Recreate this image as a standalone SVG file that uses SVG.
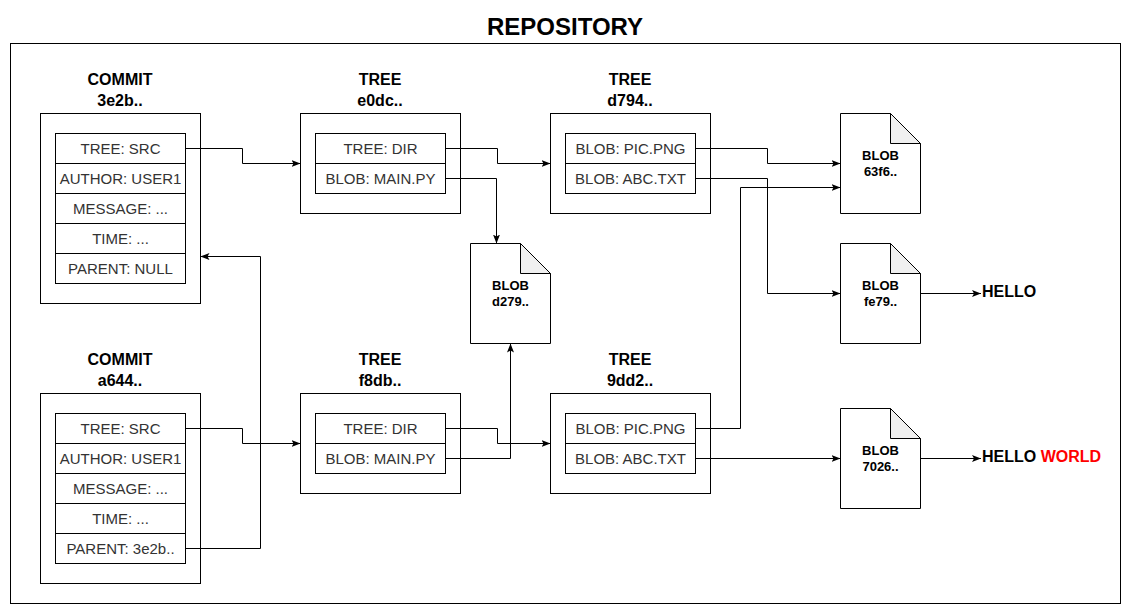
<svg xmlns="http://www.w3.org/2000/svg" width="1131" height="614" viewBox="0 0 1131 614">
<defs>
<style>
.box{fill:#fff;stroke:#000;stroke-width:1}
.cell{fill:#fff;stroke:#000;stroke-width:1}
.ct{font-family:"Liberation Sans",Arial,sans-serif;font-size:15px;fill:#333;text-anchor:middle}
.hd{font-family:"Liberation Sans",Arial,sans-serif;font-size:16px;font-weight:bold;fill:#000;text-anchor:middle}
.bt{font-family:"Liberation Sans",Arial,sans-serif;font-size:13px;font-weight:bold;fill:#000;text-anchor:middle}
.fold{fill:#f0f0f0;stroke:#000;stroke-width:1}
.ln{fill:none;stroke:#000;stroke-width:1;marker-end:url(#arr)}
</style>
<marker id="arr" markerUnits="userSpaceOnUse" markerWidth="9" markerHeight="8" viewBox="0 0 9 8" refX="9" refY="4" orient="auto">
<path d="M0,0.5 L9,4 L0,7.5 L2,4 Z" fill="#000"/>
</marker>
</defs>
<rect x="0" y="0" width="1131" height="614" fill="#fff"/>
<g id="repository">
<rect x="10.5" y="43.5" width="1110" height="560" fill="none" stroke="#000"/>
<text x="565" y="35" font-family="Liberation Sans,Arial,sans-serif" font-size="24" font-weight="bold" text-anchor="middle">REPOSITORY</text>
</g>
<g id="commit-3e2b">
<text class="hd" x="120" y="85">COMMIT</text>
<text class="hd" x="120" y="106">3e2b..</text>
<rect class="box" x="40.5" y="113.5" width="160" height="190"/>
<rect class="cell" x="55.5" y="133.5" width="130" height="30"/>
<rect class="cell" x="55.5" y="163.5" width="130" height="30"/>
<rect class="cell" x="55.5" y="193.5" width="130" height="30"/>
<rect class="cell" x="55.5" y="223.5" width="130" height="30"/>
<rect class="cell" x="55.5" y="253.5" width="130" height="30"/>
<text class="ct" x="120.5" y="154">TREE: SRC</text>
<text class="ct" x="120.5" y="184">AUTHOR: USER1</text>
<text class="ct" x="120.5" y="214">MESSAGE: ...</text>
<text class="ct" x="120.5" y="244">TIME: ...</text>
<text class="ct" x="120.5" y="274">PARENT: NULL</text>
</g>
<g id="commit-a644">
<text class="hd" x="120" y="365">COMMIT</text>
<text class="hd" x="120" y="386">a644..</text>
<rect class="box" x="40.5" y="393.5" width="160" height="190"/>
<rect class="cell" x="55.5" y="413.5" width="130" height="30"/>
<rect class="cell" x="55.5" y="443.5" width="130" height="30"/>
<rect class="cell" x="55.5" y="473.5" width="130" height="30"/>
<rect class="cell" x="55.5" y="503.5" width="130" height="30"/>
<rect class="cell" x="55.5" y="533.5" width="130" height="30"/>
<text class="ct" x="120.5" y="434">TREE: SRC</text>
<text class="ct" x="120.5" y="464">AUTHOR: USER1</text>
<text class="ct" x="120.5" y="494">MESSAGE: ...</text>
<text class="ct" x="120.5" y="524">TIME: ...</text>
<text class="ct" x="120.5" y="554">PARENT: 3e2b..</text>
</g>
<g id="tree-e0dc">
<text class="hd" x="380" y="85">TREE</text>
<text class="hd" x="380" y="106">e0dc..</text>
<rect class="box" x="300.5" y="113.5" width="160" height="100"/>
<rect class="cell" x="315.5" y="133.5" width="130" height="30"/>
<rect class="cell" x="315.5" y="163.5" width="130" height="30"/>
<text class="ct" x="380.5" y="154">TREE: DIR</text>
<text class="ct" x="380.5" y="184">BLOB: MAIN.PY</text>
</g>
<g id="tree-f8db">
<text class="hd" x="380" y="365">TREE</text>
<text class="hd" x="380" y="386">f8db..</text>
<rect class="box" x="300.5" y="393.5" width="160" height="100"/>
<rect class="cell" x="315.5" y="413.5" width="130" height="30"/>
<rect class="cell" x="315.5" y="443.5" width="130" height="30"/>
<text class="ct" x="380.5" y="434">TREE: DIR</text>
<text class="ct" x="380.5" y="464">BLOB: MAIN.PY</text>
</g>
<g id="tree-d794">
<text class="hd" x="630" y="85">TREE</text>
<text class="hd" x="630" y="106">d794..</text>
<rect class="box" x="550.5" y="113.5" width="160" height="100"/>
<rect class="cell" x="565.5" y="133.5" width="130" height="30"/>
<rect class="cell" x="565.5" y="163.5" width="130" height="30"/>
<text class="ct" x="630.5" y="154">BLOB: PIC.PNG</text>
<text class="ct" x="630.5" y="184">BLOB: ABC.TXT</text>
</g>
<g id="tree-9dd2">
<text class="hd" x="630" y="365">TREE</text>
<text class="hd" x="630" y="386">9dd2..</text>
<rect class="box" x="550.5" y="393.5" width="160" height="100"/>
<rect class="cell" x="565.5" y="413.5" width="130" height="30"/>
<rect class="cell" x="565.5" y="443.5" width="130" height="30"/>
<text class="ct" x="630.5" y="434">BLOB: PIC.PNG</text>
<text class="ct" x="630.5" y="464">BLOB: ABC.TXT</text>
</g>
<g id="blob-d279">
<path class="box" d="M470.5,243.5 H520.5 L550.5,273.5 V343.5 H470.5 Z"/>
<path class="fold" d="M520.5,243.5 V273.5 H550.5 Z"/>
<text class="bt" x="510.5" y="290">BLOB</text>
<text class="bt" x="510.5" y="306">d279..</text>
</g>
<g id="blob-63f6">
<path class="box" d="M840.5,113.5 H890.5 L920.5,143.5 V213.5 H840.5 Z"/>
<path class="fold" d="M890.5,113.5 V143.5 H920.5 Z"/>
<text class="bt" x="880.5" y="160">BLOB</text>
<text class="bt" x="880.5" y="176">63f6..</text>
</g>
<g id="blob-fe79">
<path class="box" d="M840.5,243.5 H890.5 L920.5,273.5 V343.5 H840.5 Z"/>
<path class="fold" d="M890.5,243.5 V273.5 H920.5 Z"/>
<text class="bt" x="880.5" y="290">BLOB</text>
<text class="bt" x="880.5" y="306">fe79..</text>
</g>
<g id="blob-7026">
<path class="box" d="M840.5,408.5 H890.5 L920.5,438.5 V508.5 H840.5 Z"/>
<path class="fold" d="M890.5,408.5 V438.5 H920.5 Z"/>
<text class="bt" x="880.5" y="455">BLOB</text>
<text class="bt" x="880.5" y="471">7026..</text>
</g>
<g id="content-hello">
<text x="982" y="297" font-family="Liberation Sans,Arial,sans-serif" font-size="16" font-weight="bold">HELLO</text>
</g>
<g id="content-hello-world">
<text x="982" y="462" font-family="Liberation Sans,Arial,sans-serif" font-size="16" font-weight="bold">HELLO <tspan fill="#ff0000">WORLD</tspan></text>
</g>
<g id="connectors">
<path class="ln" d="M185.5,148.5 H242.5 V163.5 H300.5"/>
<path class="ln" d="M445.5,148.5 H497.5 V163.5 H550.5"/>
<path class="ln" d="M445.5,178.5 H496.5 V243.5"/>
<path class="ln" d="M695.5,148.5 H767.5 V163.5 H840.5"/>
<path class="ln" d="M695.5,178.5 H767.5 V293.5 H840.5"/>
<path class="ln" d="M695.5,428.5 H740.5 V187.5 H840.5"/>
<path class="ln" d="M695.5,458.5 H840.5"/>
<path class="ln" d="M185.5,428.5 H242.5 V443.5 H300.5"/>
<path class="ln" d="M445.5,428.5 H497.5 V443.5 H550.5"/>
<path class="ln" d="M445.5,458.5 H510.5 V343.5"/>
<path class="ln" d="M185.5,548.5 H260.5 V256.5 H200.5"/>
<path class="ln" d="M920.5,293.5 H981"/>
<path class="ln" d="M920.5,458.5 H981"/>
</g>
</svg>
